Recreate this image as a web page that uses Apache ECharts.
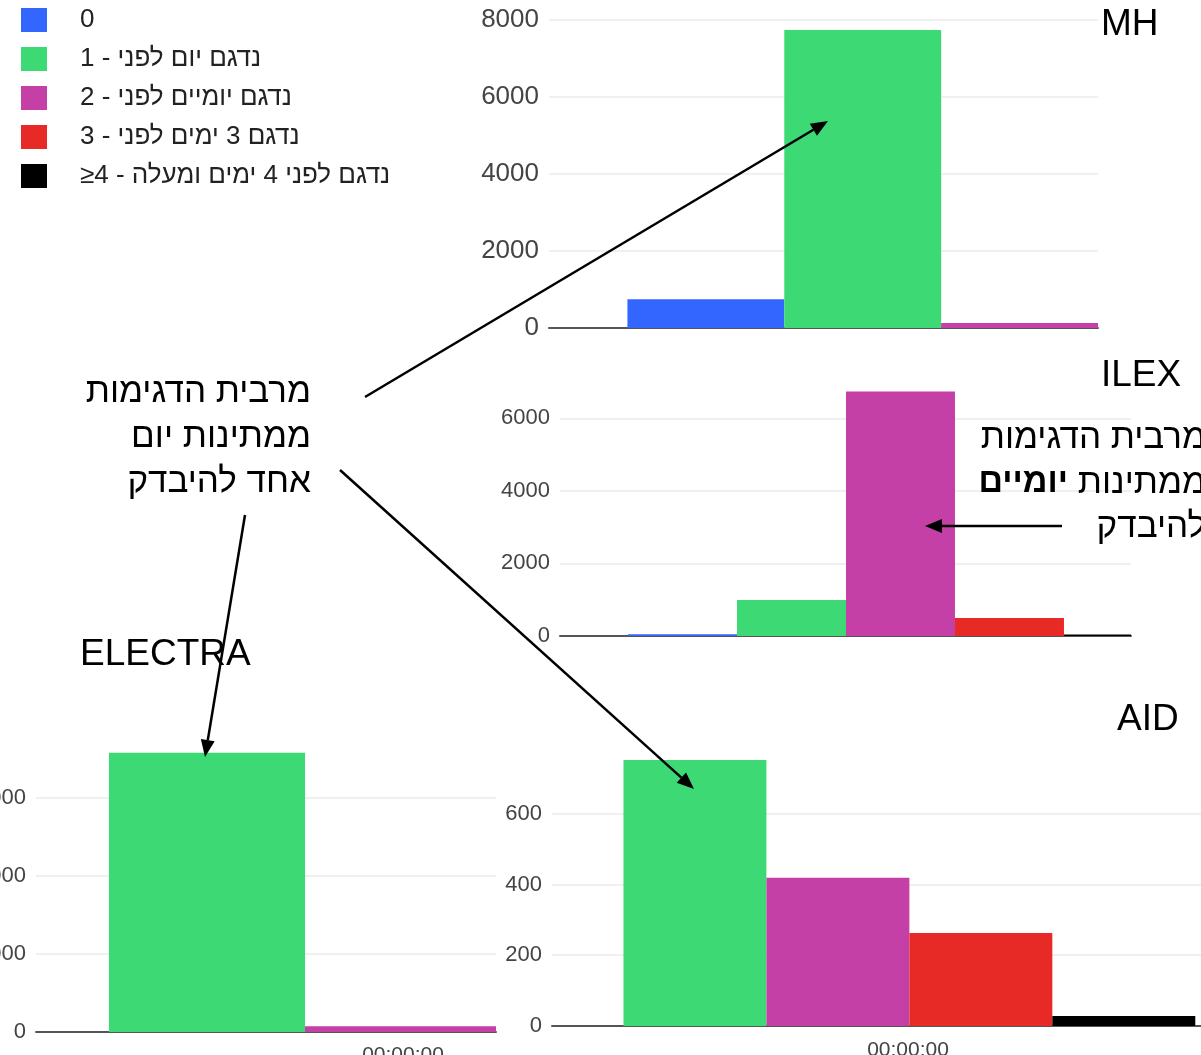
<!DOCTYPE html>
<html>
<head>
<meta charset="utf-8">
<script src="https://cdn.jsdelivr.net/npm/echarts@6/dist/echarts.min.js"></script>
<style>
  html, body { margin: 0; padding: 0; background: #fff; }
  #chart { width: 1201px; height: 1055px; }
</style>
</head>
<body>
<div id="chart"></div>
<script>
// 分组（图例）
const bins = [
  '0',
  '1 - נדגם יום לפני',
  '2 - נדגם יומיים לפני',
  '3 - נדגם 3 ימים לפני',
  '≥4 - נדגם לפני 4 ימים ומעלה'
]
const binColors = ['#3366ff', '#3cd975', '#c43fa6', '#e82a27', '#000000']

// 每个实验室的数量（按分组）
const mhValues = [750, 7740, 130, 40, 10]
const ilexValues = [50, 990, 6740, 495, 40]
const electraValues = [0, 7150, 150, 20, 5]
const aidValues = [0, 752, 419, 263, 28]

const timeLabel = '00:00:00'
const fontFamily = '"Liberation Sans", Arial, sans-serif'

// 各面板布局（截图被裁切，所以 x 轴范围不是整组）
const panels = [
  { values: mhValues, grid: { left: 549, top: 20, width: 549, height: 308 }, xRange: [-1, 2.5], yMax: 8000, interval: 2000, labelSize: 26, cropTop: false },
  { values: ilexValues, grid: { left: 560, top: 382, width: 571, height: 254 }, xRange: [-1.124, 4.115], yMax: 7000, interval: 2000, labelSize: 22, cropTop: true },
  { values: electraValues, grid: { left: 36, top: 743, width: 460, height: 289 }, xRange: [0.128, 2.474], yMax: 7400, interval: 2000, labelSize: 22, cropTop: true },
  { values: aidValues, grid: { left: 552, top: 750, width: 649, height: 276 }, xRange: [0, 4.54], yMax: 780, interval: 200, labelSize: 22, cropTop: true }
]

const chart = echarts.init(document.getElementById('chart'))

const gridLine = '#ebebeb'
const grids = []
const xAxes = []
const yAxes = []
const series = []

// 柱子：占满一个分组宽度，并裁切到网格内
const renderBar = (params, api) => {
  const x = api.value(0)
  const y = api.value(1)
  const start = api.coord([x - 0.5, y])
  const end = api.coord([x + 0.5, 0])
  const cs = params.coordSys
  const rect = echarts.graphic.clipRectByRect(
    { x: start[0], y: start[1], width: end[0] - start[0], height: end[1] - start[1] },
    { x: cs.x, y: cs.y, width: cs.width, height: cs.height }
  )
  return rect && { type: 'rect', shape: rect, style: api.style() }
}

panels.forEach((p, i) => {
  grids.push(Object.assign({ containLabel: false, outerBoundsMode: 'none' }, p.grid))
  xAxes.push({
    type: 'value',
    gridIndex: i,
    min: p.xRange[0],
    max: p.xRange[1],
    axisLine: { show: true, onZero: false, lineStyle: { color: '#555', width: 2 } },
    axisTick: { show: false },
    axisLabel: { show: false },
    splitLine: { show: false }
  })
  yAxes.push({
    type: 'value',
    gridIndex: i,
    min: 0,
    max: p.yMax,
    interval: p.interval,
    axisLine: { show: false, onZero: false },
    axisTick: { show: false },
    axisLabel: {
      color: '#444',
      fontSize: p.labelSize,
      fontFamily,
      margin: 10,
      showMaxLabel: !p.cropTop,
      formatter: (v) => String(v)
    },
    splitLine: {
      lineStyle: {
        color: p.cropTop ? [gridLine, gridLine, gridLine, gridLine, 'rgba(0,0,0,0)'] : gridLine,
        width: 1.5
      }
    }
  })
  bins.forEach((name, k) => {
    series.push({
      type: 'custom',
      name,
      coordinateSystem: 'cartesian2d',
      xAxisIndex: i,
      yAxisIndex: i,
      data: [[k, p.values[k]]],
      encode: { x: 0, y: 1 },
      itemStyle: { color: binColors[k] },
      renderItem: renderBar
    })
  })
})

// 箭头
const arrow = (x1, y1, x2, y2) => {
  const a = Math.atan2(y2 - y1, x2 - x1)
  const L = 17
  const W = 7
  const bx = x2 - L * Math.cos(a)
  const by = y2 - L * Math.sin(a)
  const px = -Math.sin(a) * W
  const py = Math.cos(a) * W
  return [
    { type: 'line', z: 100, shape: { x1, y1, x2: bx, y2: by }, style: { stroke: '#000', lineWidth: 2.5 } },
    { type: 'polygon', z: 100, shape: { points: [[x2, y2], [bx + px, by + py], [bx - px, by - py]] }, style: { fill: '#000' } }
  ]
}

const label = (text, x, y, size, align) => ({
  type: 'text', z: 90, x, y,
  style: { text, fontSize: size, fontFamily, fill: '#000', align: align || 'left', verticalAlign: 'middle' }
})

const graphic = [
  label('MH', 1101, 25, 37),
  label('ILEX', 1101, 376, 37),
  label('AID', 1117, 720, 37),
  label('ELECTRA', 80, 655, 37),
  label('מרבית הדגימות', 311, 392, 35, 'right'),
  label('ממתינות יום', 311, 437, 35, 'right'),
  label('אחד להיבדק', 311, 482, 35, 'right'),
  label('מרבית הדגימות', 1206, 438, 35, 'right'),
  {
    type: 'text', z: 90, x: 1206, y: 483,
    style: {
      text: '{b|יומיים} ממתינות',
      fontSize: 35, fontFamily, fill: '#000', align: 'right', verticalAlign: 'middle',
      rich: { b: { fontSize: 34, fontFamily, fontWeight: 'bold', fill: '#000' } }
    }
  },
  label('להיבדק', 1206, 527, 35, 'right'),
  { type: 'text', z: 90, x: 403, y: 1045, style: { text: timeLabel, fontSize: 21, fontFamily, fill: '#444', align: 'center', verticalAlign: 'top' } },
  { type: 'text', z: 90, x: 908, y: 1040, style: { text: timeLabel, fontSize: 21, fontFamily, fill: '#444', align: 'center', verticalAlign: 'top' } },
  ...arrow(365, 397, 828, 121),
  ...arrow(340, 470, 694, 789),
  ...arrow(245, 515, 205, 757),
  ...arrow(1062, 526, 925, 526)
]

chart.setOption({
  animation: false,
  backgroundColor: '#fff',
  legend: {
    orient: 'vertical',
    left: 21,
    top: 7,
    padding: 0,
    itemWidth: 26,
    itemHeight: 24,
    itemGap: 13,
    icon: 'rect',
    selectedMode: false,
    data: bins,
    textStyle: { fontSize: 26, color: '#222', fontFamily, lineHeight: 24, padding: [0, 0, 0, 28] }
  },
  grid: grids,
  xAxis: xAxes,
  yAxis: yAxes,
  series,
  graphic
})
</script>
</body>
</html>
